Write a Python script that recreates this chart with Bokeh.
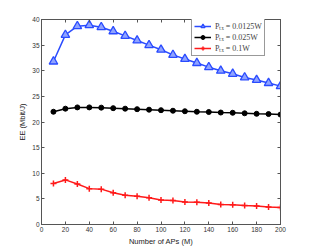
from bokeh.plotting import figure
from bokeh.models import LinearAxis, FixedTicker, Legend, LegendItem, Range1d
from bokeh.embed import file_html
from bokeh.resources import INLINE

aps = [10, 20, 30, 40, 50, 60, 70, 80, 90, 100, 110, 120, 130, 140, 150, 160, 170, 180, 190, 200]
ee_00125 = [31.8, 37.0, 38.7, 38.9, 38.5, 37.7, 36.8, 35.9, 35.0, 34.1, 33.1, 32.3, 31.5, 30.7, 30.0, 29.4, 28.7, 28.2, 27.6, 27.0]
ee_0025 = [22.0, 22.6, 22.85, 22.85, 22.8, 22.7, 22.6, 22.5, 22.4, 22.3, 22.2, 22.1, 22.0, 21.95, 21.85, 21.8, 21.7, 21.6, 21.55, 21.45]
ee_01 = [8.0, 8.7, 7.9, 7.0, 6.9, 6.2, 5.7, 5.5, 5.2, 4.8, 4.7, 4.4, 4.35, 4.2, 3.9, 3.85, 3.7, 3.6, 3.4, 3.3]
labels = ["P\u209c\u2093 = 0.0125W", "P\u209c\u2093 = 0.025W", "P\u209c\u2093 = 0.1W"]
x_ticks = [0, 20, 40, 60, 80, 100, 120, 140, 160, 180, 200]
y_ticks = [0, 5, 10, 15, 20, 25, 30, 35, 40]

AX = "#555555"
p = figure(frame_width=239, frame_height=205, output_backend="svg", toolbar_location=None,
           x_range=Range1d(0, 200), y_range=Range1d(0, 40),
           min_border_left=41, min_border_top=19, min_border_right=10, min_border_bottom=22,
           x_axis_label="Number of APs (M)", y_axis_label="EE (Mbit/J)")
p.grid.visible = False
p.outline_line_color = AX
p.outline_line_width = 1
p.background_fill_color = "white"
p.border_fill_color = "white"

def style(ax, ticks, show):
    ax.ticker = FixedTicker(ticks=ticks)
    ax.major_tick_in = 3
    ax.major_tick_out = 0
    ax.minor_tick_in = 0
    ax.minor_tick_out = 0
    ax.axis_line_color = AX
    ax.major_tick_line_color = AX
    ax.major_label_text_font = "Liberation Sans"
    ax.major_label_text_font_size = "6.5px"
    ax.major_label_text_color = "#333333"
    ax.major_label_standoff = 2
    ax.axis_label_text_font = "Liberation Sans"
    ax.axis_label_text_font_size = "7.5px"
    ax.axis_label_text_font_style = "normal"
    ax.axis_label_text_color = "#222222"
    ax.axis_label_standoff = 2
    if not show:
        ax.major_label_overrides = {t: "" for t in ticks}
        ax.major_label_standoff = 0

style(p.xaxis[0], x_ticks, True)
style(p.yaxis[0], y_ticks, True)
top = LinearAxis()
right = LinearAxis()
style(top, x_ticks, False)
style(right, y_ticks, False)
p.add_layout(top, "above")
p.add_layout(right, "right")

BLUE = "#2a4bff"
RED = "#ff1a1a"
l1 = p.line(aps, ee_00125, line_color=BLUE, line_width=1.5)
m1 = p.scatter(aps, ee_00125, marker="triangle", size=8.5, line_color=BLUE, fill_color="#8fa3ff", line_width=1.3)
l2 = p.line(aps, ee_0025, line_color="black", line_width=1.5)
m2 = p.scatter(aps, ee_0025, marker="circle", size=5, line_color="black", fill_color="black")
l3 = p.line(aps, ee_01, line_color=RED, line_width=1.5)
m3 = p.scatter(aps, ee_01, marker="cross", size=6, line_color=RED, line_width=1.5)

legend = Legend(items=[LegendItem(label=labels[0], renderers=[l1, m1]),
                       LegendItem(label=labels[1], renderers=[l2, m2]),
                       LegendItem(label=labels[2], renderers=[l3, m3])],
                location=(150, 168), margin=0, padding=2, spacing=0,
                label_text_font="Liberation Serif", label_text_font_size="8px",
                label_text_font_style="normal",
                label_height=10, label_standoff=4, glyph_width=17, glyph_height=10,
                border_line_color="#333333", border_line_width=1,
                background_fill_color="white", background_fill_alpha=1)
p.add_layout(legend, "center")

open("out.html", "w").write(file_html(p, INLINE))
